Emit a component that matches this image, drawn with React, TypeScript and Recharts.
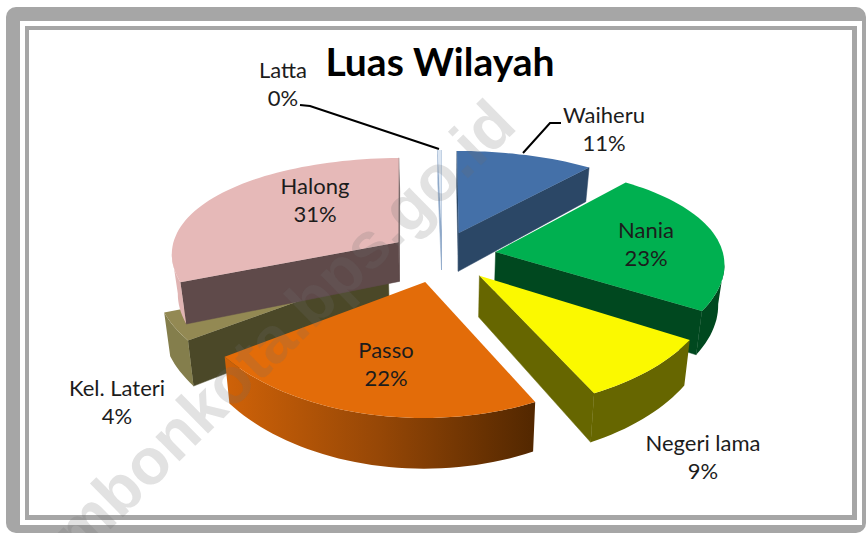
import { PieChart, Pie } from 'recharts';

const CATEGORIES = ['Waiheru', 'Nania', 'Negeri lama', 'Passo', 'Kel. Lateri', 'Halong', 'Latta'];
const SHARES = [11, 23, 9, 22, 4, 31, 0.3];

const TOP_COLORS = ['#4470a8', '#00b050', '#fbf900', '#e36c09', '#938953', '#e6b9b8', '#dce6f2'];
const CUT_COLORS = ['#2b4766', '#00481f', '#666600', '#6e3505', '#4b4828', '#5f4a4a', '#8fa9c9'];
const WALL_COLORS = ['#2b4766', '#00481f', '#666600', 'url(#passoWall)', '#847e4c', '#e0b4b3', '#8fa9c9'];

// small sideways shift per slice, the original perspective is not quite centred
const SLICE_SHIFT = [2, 2, 3, 1, 0, 7, 4];

// label centre for each slice, first line
const LABEL_SPOTS: Record<string, [number, number]> = {
  Waiheru: [604, 116],
  Nania: [646, 231],
  'Negeri lama': [703, 444],
  Passo: [386, 351],
  'Kel. Lateri': [117, 389],
  Halong: [315, 187],
  Latta: [283, 71],
};
const LEADERS: Record<string, string> = {
  Waiheru: '523,153 550,123 561,123',
  Latta: '300,105 310,106 439,149',
};

const FONT = 'Lato, "Open Sans", sans-serif';
const CX = 438;
const CY = 256;
const RX = 228;
const RY = 103;
const PERSPECTIVE_X = 0.1;
const PERSPECTIVE_Y = 0.17;
const EXPLODE = 0.248;
const DEPTH = 40;

const data = CATEGORIES.map((name, i) => ({ name, value: SHARES[i] }));

type Pt = { x: number; y: number; bx: number; by: number };

function project(u: number, v: number, cx: number, cy: number, radius: number): Pt {
  const wx = 1 / (1 - PERSPECTIVE_X * v);
  const wy = 1 / (1 - PERSPECTIVE_Y * v);
  const x = cx + radius * u * wx;
  const y = cy + radius * (RY / RX) * v * wy;
  return { x, y, bx: cx + (x - cx) * 0.978, by: y + DEPTH * wy };
}

function poly(points: [number, number][]) {
  return points.map((p) => `${p[0].toFixed(1)},${p[1].toFixed(1)}`).join(' ');
}

function wedge(props: any, only: string | null, skip: string | null) {
  const { cy, outerRadius, startAngle, endAngle, midAngle, name } = props;
  if ((only && name !== only) || (skip && name === skip)) return <g />;
  const idx = CATEGORIES.indexOf(name);
  const cx = props.cx + SLICE_SHIFT[idx];
  const RAD = Math.PI / 180;
  const ex = EXPLODE * Math.cos(midAngle * RAD);
  const ey = -EXPLODE * Math.sin(midAngle * RAD);
  const apex = project(ex, ey, cx, cy, outerRadius);
  const steps = Math.max(2, Math.ceil(Math.abs(startAngle - endAngle) / 2));
  const arc: Pt[] = [];
  for (let s = 0; s <= steps; s++) {
    const a = (startAngle + ((endAngle - startAngle) * s) / steps) * RAD;
    arc.push(project(ex + Math.cos(a), ey - Math.sin(a), cx, cy, outerRadius));
  }

  const walls: React.ReactNode[] = [];
  const quad = (a: Pt, b: Pt, fill: string, key: string) => (
    <polygon key={key} points={poly([[a.x, a.y], [b.x, b.y], [b.bx, b.by], [a.bx, a.by]])} fill={fill} stroke={fill} strokeWidth={0.5} />
  );
  const first = arc[0];
  const last = arc[arc.length - 1];
  if (first.x < apex.x) walls.push(quad(apex, first, CUT_COLORS[idx], 'cut-a'));
  if (apex.x < last.x) walls.push(quad(last, apex, CUT_COLORS[idx], 'cut-b'));
  // curved wall: only the runs that move leftwards on screen face the viewer
  let run: Pt[] = [];
  const flush = () => {
    if (run.length > 1) {
      const pts: [number, number][] = run.map((p) => [p.x, p.y]);
      const low: [number, number][] = run.map((p) => [p.bx, p.by]);
      walls.push(
        <polygon key={`wall-${walls.length}`} points={poly([...pts, ...low.reverse()])} fill={WALL_COLORS[idx]} />,
      );
    }
    run = [];
  };
  for (let i = 1; i < arc.length; i++) {
    if (arc[i].x < arc[i - 1].x) {
      if (run.length === 0) run.push(arc[i - 1]);
      run.push(arc[i]);
    } else {
      flush();
    }
  }
  flush();

  const top: [number, number][] = [[apex.x, apex.y], ...arc.map((p): [number, number] => [p.x, p.y])];
  return (
    <g>
      {walls}
      <polygon points={poly(top)} fill={TOP_COLORS[idx]} />
    </g>
  );
}

function renderLabel(props: any) {
  const { name, percent } = props;
  const [x, y] = LABEL_SPOTS[name];
  const textProps = { textAnchor: 'middle' as const, fontFamily: FONT, fontSize: 22, fill: '#1c1c1c' };
  return (
    <g key={name}>
      {LEADERS[name] && <polyline points={LEADERS[name]} fill="none" stroke="#000" strokeWidth={2} />}
      <text x={x} y={y + 7} {...textProps}>{name}</text>
      <text x={x} y={y + 35} {...textProps}>{`${Math.round(percent * 100)}%`}</text>
    </g>
  );
}

function Frame() {
  const box = (left: number, top: number, right: number, bottom: number, bg: string, radius = 0) => (
    <div
      style={{
        position: 'absolute',
        left,
        top,
        width: right - left,
        height: bottom - top,
        background: bg,
        borderRadius: radius,
      }}
    />
  );
  return (
    <>
      {box(6, 7, 866, 533, '#a6a6a6', 10)}
      {box(20, 21, 862, 525, '#ffffff')}
      {box(25, 26, 857, 520, '#a6a6a6')}
      {box(29, 30, 852, 515, '#ffffff')}
    </>
  );
}

export default function App() {
  return (
    <div style={{ position: 'absolute', left: 0, top: 0, width: 866, height: 533, overflow: 'hidden', background: '#fff' }}>
      <Frame />
      <div style={{ position: 'absolute', left: 0, top: 0 }}>
        <PieChart width={866} height={533} margin={{ top: 0, right: 0, bottom: 0, left: 0 }}>
          <defs>
            <linearGradient id="passoWall" x1="0" y1="0" x2="1" y2="0">
              <stop offset="0%" stopColor="#cf6208" />
              <stop offset="50%" stopColor="#964706" />
              <stop offset="100%" stopColor="#522700" />
            </linearGradient>
          </defs>
          <text x={440} y={76} textAnchor="middle" fontFamily={FONT} fontWeight={700} fontSize={39} fill="#000">
            Luas Wilayah
          </text>
          <Pie
            data={data}
            dataKey="value"
            nameKey="name"
            cx={CX}
            cy={CY}
            outerRadius={RX}
            startAngle={90}
            endAngle={-270}
            stroke="none"
            isAnimationActive={false}
            shape={(p: any) => wedge(p, null, 'Passo')}
          />
          <Pie
            data={data}
            dataKey="value"
            nameKey="name"
            cx={CX}
            cy={CY}
            outerRadius={RX}
            startAngle={90}
            endAngle={-270}
            stroke="none"
            isAnimationActive={false}
            labelLine={false}
            label={renderLabel}
            shape={(p: any) => wedge(p, 'Passo', null)}
          />
        </PieChart>
      </div>
      <div
        style={{
          position: 'absolute',
          left: 270,
          top: 341,
          transform: 'translate(-50%, -50%) rotate(-44.5deg)',
          fontFamily: '"Liberation Sans", Arial, sans-serif',
          fontWeight: 700,
          fontSize: 65,
          whiteSpace: 'nowrap',
          color: 'rgba(110,110,110,0.2)',
          pointerEvents: 'none',
        }}
      >
        ambonkota.bps.go.id
      </div>
    </div>
  );
}
